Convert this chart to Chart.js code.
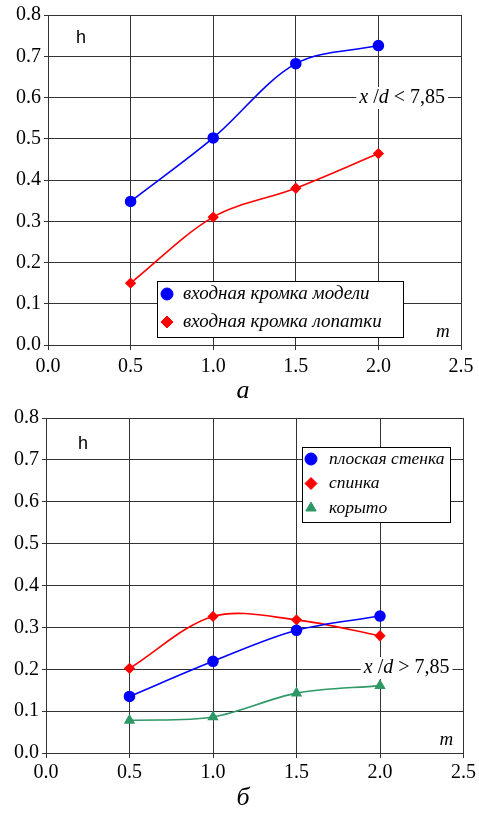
<!DOCTYPE html>
<html>
<head>
<meta charset="utf-8">
<script src="https://cdn.jsdelivr.net/npm/chart.js@4"></script>
<style>
  body { margin: 0; background: #fff; }
  canvas { display: block; }
</style>
</head>
<body>
<canvas id="chartA" width="479" height="400"></canvas>
<canvas id="chartB" width="479" height="413"></canvas>
<script>
// --- data ---
const mValues = [0.5, 1.0, 1.5, 2.0];
const yTicks = [0.0, 0.1, 0.2, 0.3, 0.4, 0.5, 0.6, 0.7, 0.8];
const xTicks = [0.0, 0.5, 1.0, 1.5, 2.0, 2.5];

// chart a: x/d < 7,85
const aLabels = ['входная кромка модели', 'входная кромка лопатки'];
const aModel = [0.348, 0.502, 0.682, 0.726];
const aBlade = [0.150, 0.310, 0.380, 0.464];

// chart б: x/d > 7,85
const bLabels = ['плоская стенка', 'спинка', 'корыто'];
const bFlat = [0.135, 0.219, 0.293, 0.327];
const bBack = [0.202, 0.326, 0.318, 0.280];
const bTrough = [0.078, 0.086, 0.143, 0.161];

const SERIF = 'Liberation Serif, serif';
const GRID = '#333333';

Chart.defaults.font.family = SERIF;
Chart.defaults.color = '#000';

function pts(ys) {
    return mValues.map((x, i) => ({ x: x, y: ys[i] }));
}

function series(label, ys, color, style, r) {
    return {
        label: label, data: pts(ys),
        borderColor: color, backgroundColor: color,
        borderWidth: 1.6, pointStyle: style, pointRadius: r, pointHoverRadius: r,
        tension: 0.33, fill: false
    };
}

// подписи внутри поля графика: h, x/d, m, легенда, подпись снизу
function textPlugin(cfg) {
    return {
        id: 'texts',
        afterDraw(chart) {
            const c = chart.ctx;
            const area = chart.chartArea;
            c.save();
            // h
            c.fillStyle = '#000';
            c.font = '18px Liberation Sans, Arial, sans-serif';
            c.textBaseline = 'middle';
            c.textAlign = 'left';
            c.fillText('h', area.left + cfg.hX, area.top + cfg.hY);

            // x /d < 7,85
            const parts = [
                ['italic', 'x'], ['normal', ' /'], ['italic', 'd'], ['normal', ' ' + cfg.sign + ' 7,85']
            ];
            let w = 0;
            parts.forEach(p => { c.font = p[0] + ' 20px ' + SERIF; w += c.measureText(p[1]).width; });
            let tx = area.right - cfg.xdRight - w;
            const ty = area.top + cfg.xdY;
            c.fillStyle = '#fff';
            c.fillRect(tx - 3, ty - 11, w + 6, 22);
            c.fillStyle = '#000';
            parts.forEach(p => {
                c.font = p[0] + ' 20px ' + SERIF;
                c.fillText(p[1], tx, ty);
                tx += c.measureText(p[1]).width;
            });

            // m
            c.font = 'italic 19px ' + SERIF;
            c.fillText('m', area.right - cfg.mRight, area.bottom - cfg.mY);

            // legend
            const L = cfg.legend;
            c.fillStyle = '#fff';
            c.fillRect(L.x, L.y, L.w, L.h);
            c.strokeStyle = '#000';
            c.lineWidth = 1;
            c.strokeRect(L.x + 0.5, L.y + 0.5, L.w, L.h);
            chart.data.datasets.forEach((ds, i) => {
                const cy = L.y + L.first + i * L.step;
                c.fillStyle = ds.backgroundColor;
                c.strokeStyle = ds.borderColor;
                Chart.helpers.drawPoint(c, { pointStyle: ds.pointStyle, radius: L.r, borderWidth: 1 }, L.x + L.mx, cy);
                c.fillStyle = '#000';
                c.font = 'italic ' + L.font + 'px ' + SERIF;
                c.textAlign = 'left';
                c.fillText(ds.label, L.x + L.tx, cy);
            });

            // caption
            c.font = 'italic 26px ' + SERIF;
            c.textAlign = 'center';
            c.fillText(cfg.caption, 243, cfg.capY);
            c.restore();
        }
    };
}

function makeOptions(yWidth, xHeight, pad, xPad) {
    return {
        responsive: false,
        animation: false,
        events: [],
        layout: { padding: pad },
        plugins: { legend: { display: false }, tooltip: { enabled: false } },
        scales: {
            x: {
                type: 'linear', min: 0, max: 2.5,
                afterBuildTicks: s => { s.ticks = xTicks.map(v => ({ value: v })); },
                afterFit: s => { s.height = xHeight; },
                grid: { color: GRID, lineWidth: 1, tickLength: 5, drawTicks: true },
                border: { color: GRID, width: 1 },
                ticks: { color: '#000', font: { family: SERIF, size: 20 }, padding: xPad,
                         maxRotation: 0, callback: v => v.toFixed(1) }
            },
            y: {
                min: 0, max: 0.8,
                afterBuildTicks: s => { s.ticks = yTicks.map(v => ({ value: v })); },
                afterFit: s => { s.width = yWidth; },
                grid: { color: GRID, lineWidth: 1, tickLength: 4, drawTicks: true },
                border: { color: GRID, width: 1 },
                ticks: { color: '#000', font: { family: SERIF, size: 20 }, padding: 3,
                         callback: v => v.toFixed(1) }
            }
        }
    };
}

new Chart(document.getElementById('chartA'), {
    type: 'line',
    data: {
        datasets: [
            series(aLabels[0], aModel, '#0000ff', 'circle', 5),
            series(aLabels[1], aBlade, '#ff0000', 'rectRot', 4.5)
        ]
    },
    options: makeOptions(48, 55, { top: 14, right: 18, left: 0, bottom: 0 }, 5),
    plugins: [textPlugin({
        hX: 28, hY: 23, sign: '<', xdRight: 16, xdY: 83, mRight: 25, mY: 13,
        caption: 'а', capY: 391,
        legend: { x: 157, y: 281, w: 246, h: 56, first: 13, step: 28, r: 6, mx: 10, tx: 26, font: 19 }
    })]
});

new Chart(document.getElementById('chartB'), {
    type: 'line',
    data: {
        datasets: [
            series(bLabels[0], bFlat, '#0000ff', 'circle', 5),
            series(bLabels[1], bBack, '#ff0000', 'rectRot', 4.5),
            series(bLabels[2], bTrough, '#2e9966', 'triangle', 5)
        ]
    },
    options: makeOptions(46, 60, { top: 18, right: 15, left: 0, bottom: 0 }, 3),
    plugins: [textPlugin({
        hX: 32, hY: 26, sign: '>', xdRight: 14, xdY: 250, mRight: 24, mY: 13,
        caption: 'б', capY: 398,
        legend: { x: 302, y: 47, w: 148, h: 75, first: 12, step: 24.5, r: 6, mx: 9, tx: 27, font: 17.5 }
    })]
});
</script>
</body>
</html>
